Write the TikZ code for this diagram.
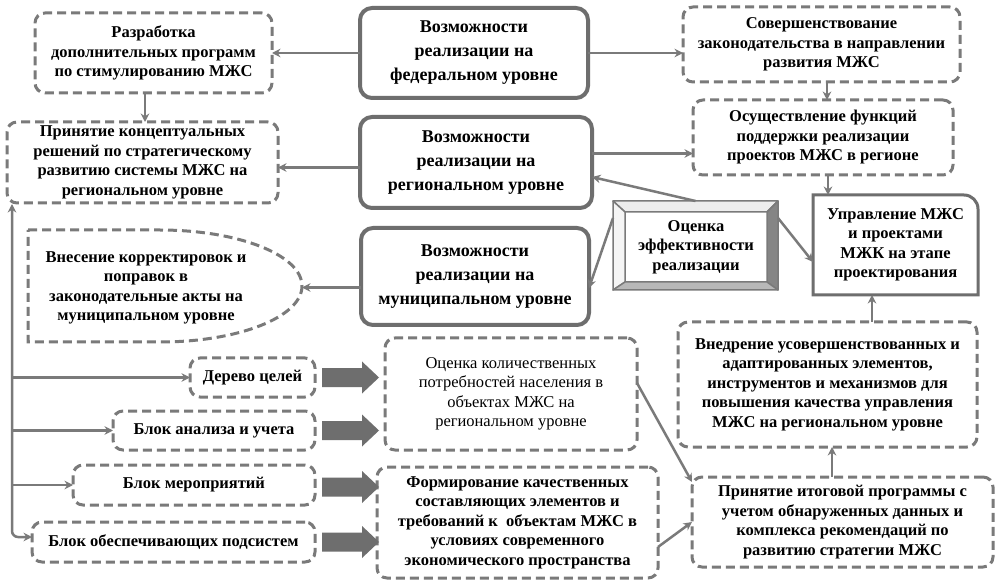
\documentclass[tikz,border=0pt]{standalone}
\usepackage{fontspec}
\setmainfont{Liberation Serif}
\usetikzlibrary{arrows.meta,calc}
\definecolor{lg}{HTML}{7A7A7A}
\definecolor{mg}{HTML}{6E6E6E}
\tikzset{
  txt/.style={font=\fontsize{16.5}{19.5}\selectfont\bfseries, align=center, text=black},
  bigtxt/.style={font=\fontsize{18}{24}\selectfont\bfseries, align=center, text=black},
  dbox/.style={txt, draw=lg, line width=3pt, dash pattern=on 9pt off 5pt, rounded corners=10pt, outer sep=0pt},
  mbox/.style={bigtxt, draw=mg, line width=4pt, rounded corners=12pt, outer sep=0pt},
  conn/.style={draw=lg, line width=2.5pt, -{Stealth[length=8.5pt,width=8.5pt]}},
  bfill/.style={fill=mg},
  bigarrow/.pic={\fill[bfill] (0,-9.5) -- (40,-9.5) -- (40,-16) -- (57,0) -- (40,16) -- (40,9.5) -- (0,9.5) -- cycle;}
}
\begin{document}
\begin{tikzpicture}[x=1pt,y=-1pt]
\fill[white] (0,0) rectangle (1005,588);
\useasboundingbox (0,0) rectangle (1005,588);

% central boxes
\node[mbox, minimum width=228pt, minimum height=90pt] (fed) at (474,53) {Возможности\\реализации на\\федеральном уровне};
\node[mbox, minimum width=232pt, minimum height=91pt] (reg) at (476,162.5) {Возможности\\реализации на\\региональном уровне};
\node[mbox, minimum width=228pt, minimum height=97pt] (mun) at (475,276.5) {Возможности\\реализации на\\муниципальном уровне};

% left top boxes
\node[dbox, minimum width=237pt, minimum height=80pt] (razr) at (153.5,53) {Разработка\\дополнительных программ\\по стимулированию МЖС};
\node[dbox, minimum width=271pt, minimum height=81pt] (prin) at (142.5,162.5) {Принятие концептуальных\\решений по стратегическому\\развитию системы МЖС на\\региональном уровне};

% Внесение shape
\draw[lg, line width=3pt, dash pattern=on 9pt off 5pt] (28,230) -- (160,230) .. controls (238.4,230) and (302,255) .. (302,286) .. controls (302,317) and (238.4,342) .. (160,342) -- (28,342) -- cycle;
\node[txt] (vnes) at (146,288) {Внесение корректировок и\\поправок в\\законодательные акты на\\муниципальном уровне};
\coordinate (vtip) at (302,287.5);

% right top boxes
\node[dbox, minimum width=277pt, minimum height=75pt] (sov) at (821.5,44.5) {Совершенствование\\законодательства в направлении\\развития МЖС};
\node[dbox, minimum width=260pt, minimum height=75pt] (osu) at (823,137.5) {Осуществление функций\\поддержки реализации\\проектов МЖС в регионе};

% Управление
\node[txt, minimum width=165pt, minimum height=100pt, outer sep=0pt] (upr) at (895.5,245) {Управление МЖС\\и проектами\\МЖК на этапе\\проектирования};
\draw[mg, line width=3pt] (upr.south west) -- (upr.north west) -- ([xshift=-14pt]upr.north east) to[out=0,in=90] ([yshift=-14pt]upr.north east) -- (upr.south east) -- cycle;

% Оценка эффективности (bevel)
\node[minimum width=165pt, minimum height=89pt, outer sep=0pt] (ots) at (695.5,245.5) {};
\node[minimum width=142pt, minimum height=70pt, outer sep=0pt] (otsbox) at (696,247) {};
\begin{scope}[draw=lg, line width=1.5pt, line join=round]
\filldraw[fill=white!93!black] (ots.north west) -- (ots.north east) -- (otsbox.north east) -- (otsbox.north west) -- cycle;
\filldraw[fill=white!96!black] (ots.north west) -- (otsbox.north west) -- (otsbox.south west) -- (ots.south west) -- cycle;
\filldraw[fill=white!52!black] (ots.north east) -- (ots.south east) -- (otsbox.south east) -- (otsbox.north east) -- cycle;
\filldraw[fill=white!72!black] (ots.south west) -- (ots.south east) -- (otsbox.south east) -- (otsbox.south west) -- cycle;
\end{scope}
\node[txt] (otsin) at (otsbox) {Оценка\\эффективности\\реализации};

% bottom left blocks
\node[dbox, minimum width=125pt, minimum height=39pt] (derevo) at (252.5,377.5) {Дерево целей};
\node[dbox, minimum width=202pt, minimum height=39pt] (analiz) at (214,430.5) {Блок анализа и учета};
\node[dbox, minimum width=242pt, minimum height=40pt] (merop) at (194,485) {Блок мероприятий};
\node[dbox, minimum width=283pt, minimum height=40pt] (obesp) at (173.5,542) {Блок обеспечивающих подсистем};

% bottom middle
\node[dbox, font=\fontsize{16.5}{19.5}\selectfont\mdseries, minimum width=252pt, minimum height=112pt] (kolich) at (511,394) {Оценка количественных\\потребностей населения в\\объектах МЖС на\\региональном уровне};
\node[dbox, minimum width=281pt, minimum height=111pt] (form) at (517.5,522.5) {Формирование качественных\\составляющих элементов и\\требований к\ \ объектам МЖС в\\условиях современного\\экономического пространства};

% bottom right
\node[dbox, minimum width=299pt, minimum height=125pt] (vnedr) at (827.5,384.5) {Внедрение усовершенствованных и\\адаптированных элементов,\\инструментов и механизмов для\\повышения качества управления\\МЖС на региональном уровне};
\node[dbox, minimum width=301pt, minimum height=90pt] (itog) at (842.5,522) {Принятие итоговой программы с\\учетом обнаруженных данных и\\комплекса рекомендаций по\\развитию стратегии МЖС};

% connectors
\draw[conn] (fed.west) -- (fed.west -| razr.east);
\draw[conn] (fed.east) -- (fed.east -| sov.west);
\draw[conn] ([xshift=-8.5pt]razr.south) -- ([xshift=-8.5pt]razr.south |- prin.north);
\draw[conn] ([yshift=-5pt]reg.west) -- ([yshift=-5pt]reg.west -| prin.east);
\draw[conn] ([yshift=9pt]reg.east) -- ([yshift=9pt]reg.east -| osu.west);
\draw[conn] ([xshift=5.5pt]sov.south) -- ([xshift=5.5pt]sov.south |- osu.north);
\draw[conn] ([xshift=5pt]osu.south) -- ([xshift=5pt]osu.south |- upr.north);
\draw[conn] (ots.north) -- ([yshift=-14.5pt]reg.east);
\draw[conn] ([yshift=-17pt]ots.north west) -- ([yshift=-11.5pt]mun.east);
\draw[conn] ([yshift=-17pt]ots.north east) -- ([yshift=-17pt]upr.west);
\draw[conn] ([yshift=-11pt]mun.west) -- (vtip);
\draw[conn] ([xshift=44.5pt]vnedr.north) -- ([xshift=44.5pt]vnedr.north |- upr.south);
\draw[conn] ([xshift=-10.5pt]itog.north) -- ([xshift=-10.5pt]itog.north |- vnedr.south);
\draw[conn] ([yshift=11pt]kolich.east) -- ([yshift=40pt]itog.west);
\draw[conn] ([yshift=-24.5pt]form.east) -- (itog.west);

% trunk
\coordinate (tTop) at (12,204);
\coordinate (tBot) at (12,537);
\draw[draw=lg, line width=2.5pt, {Stealth[length=8.5pt,width=8.5pt]}-{Stealth[length=8.5pt,width=8.5pt]}, rounded corners=6pt] (tTop) -- (tBot) -- (tBot -| obesp.west);
\draw[conn] (tBot |- derevo.west) -- (derevo.west);
\draw[conn] (tBot |- analiz.west) -- (analiz.west);
\draw[conn] (tBot |- merop.west) -- (merop.west);

% block arrows
\pic at ([xshift=7pt]derevo.east) {bigarrow};
\pic at ([xshift=7pt]analiz.east) {bigarrow};
\pic at ([xshift=7pt,yshift=-2pt]merop.east) {bigarrow};
\pic at ([xshift=7pt]obesp.east) {bigarrow};
\end{tikzpicture}
\end{document}
